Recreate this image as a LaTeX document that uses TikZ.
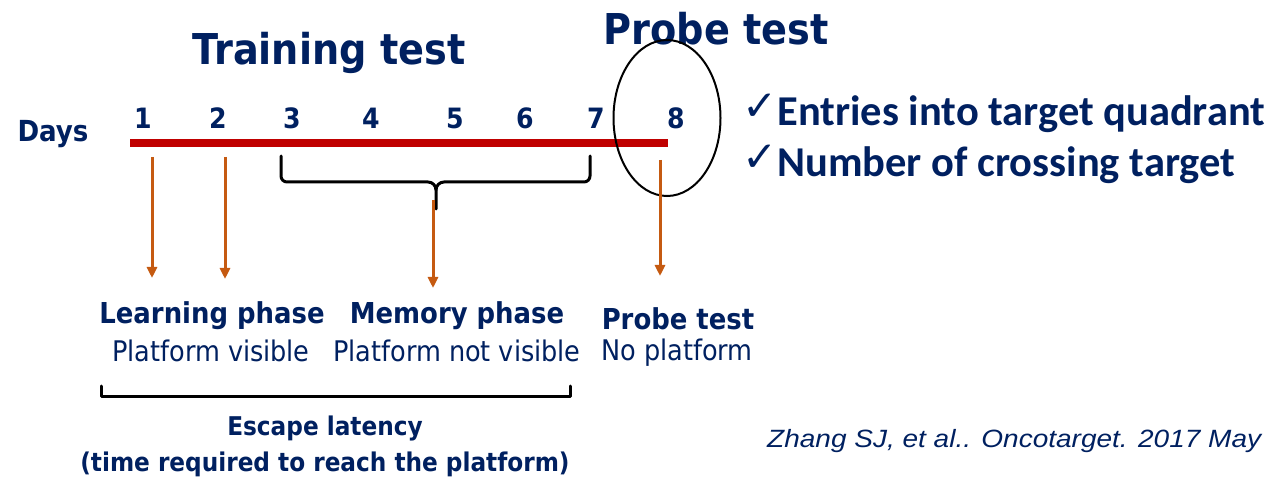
\documentclass[tikz,border=0pt]{standalone}
\usepackage{fontspec}
\setmainfont{Liberation Sans}
\newfontfamily\tah{DejaVu Sans Condensed}
\newfontfamily\calfont{Carlito}
\newfontfamily\dvs{DejaVu Sans}
\usetikzlibrary{arrows.meta,shapes.geometric}
\definecolor{navy}{RGB}{0,32,96}
\definecolor{tred}{RGB}{192,0,0}
\definecolor{torange}{RGB}{197,90,17}
\newcommand{\chk}{\raisebox{5pt}{\dvs\fontsize{42}{44}\selectfont ✓}}
\begin{document}
\begin{tikzpicture}[x=1pt,y=-1pt,
  txt/.style={text=navy,inner sep=0pt,anchor=center},
  ttl/.style={txt,font=\tah\bfseries\fontsize{42.5}{44}\selectfont},
  hd/.style={txt,font=\tah\bfseries\fontsize{28.8}{30}\selectfont},
  sub/.style={txt,font=\tah\fontsize{28.4}{30}\selectfont},
  num/.style={txt,font=\tah\bfseries\fontsize{28}{30}\selectfont},
  esc/.style={txt,font=\tah\bfseries\fontsize{25.8}{28}\selectfont},
  arr/.style={draw=torange,line width=3pt,-{Triangle[length=11pt,width=10pt]}},
  brk/.style={draw=black,line width=3pt,line cap=round,line join=round}]
\useasboundingbox (0,0) rectangle (1270,481);
\node[ttl] (tt) at (329,53) {Training test};
\node[ttl] (pt) at (716,29) {Probe test};
\node[num,font=\tah\bfseries\fontsize{29}{30}\selectfont] (days) at (53,134) {Days};
\foreach \n/\x in {1/143,2/218,3/292,4/371,5/455,6/525,7/596,8/676}{
  \node[num] (d\n) at (\x,118) {\n};
}
\coordinate (ls) at (130,143);
\coordinate (le) at (668,143);
\draw[tred,line width=8pt] (ls) -- (le);
\node[draw=black,line width=2pt,ellipse,minimum width=107pt,minimum height=156pt,inner sep=0pt] (el) at (667,118) {};
% brace
\coordinate (b1) at (281,156);
\coordinate (b2) at (590,156);
\coordinate (bt) at (436,209);
\draw[brk] (b1) -- (281,176) to[out=-90,in=180] (287,182) -- (428,182) to[out=0,in=90] (436,190) -- (bt);
\draw[brk] (b2) -- (590,176) to[out=-90,in=0] (584,182) -- (444,182) to[out=180,in=90] (436,190);
% labels
\node[hd] (lp) at (212,316) {Learning phase};
\node[sub] (lpv) at (211,351) {Platform visible};
\node[hd] (mp) at (457,316) {Memory phase};
\node[sub] (mpv) at (457,351) {Platform not visible};
\node[hd] (pb) at (678,319) {Probe test};
\node[sub] (npf) at (677,353) {No platform};
% arrows
\coordinate (a1s) at (152,157); \coordinate (a1e) at (152,278);
\coordinate (a2s) at (225,157); \coordinate (a2e) at (225,279);
\coordinate (a3s) at (433,200); \coordinate (a3e) at (433,288);
\coordinate (a4s) at (660,160); \coordinate (a4e) at (660,276);
\draw[arr] (a1s) -- (a1e);
\draw[arr] (a2s) -- (a2e);
\draw[arr] (a3s) -- (a3e);
\draw[arr] (a4s) -- (a4e);
% checks
\node[txt,anchor=west,font=\calfont\bfseries\fontsize{42.5}{44}\selectfont] (c1) at (742,113) {\chk Entries into target quadrant};
\node[txt,anchor=west,font=\calfont\bfseries\fontsize{42.5}{44}\selectfont] (c2) at (742,164) {\chk Number of crossing target};
% bottom bracket
\coordinate (e1) at (101,386);
\coordinate (e2) at (570,386);
\draw[brk] (e1) -- (101,396) -- (570,396) -- (e2);
\node[esc] (el1) at (325,428) {Escape latency};
\node[esc] (el2) at (325,464) {(time required to reach the platform)};
\node[txt,anchor=west,xscale=1.12,font=\itshape\fontsize{25}{27}\selectfont] (cit) at (767,441) {Zhang SJ, et al.. Oncotarget. 2017 May};
\end{tikzpicture}
\end{document}
